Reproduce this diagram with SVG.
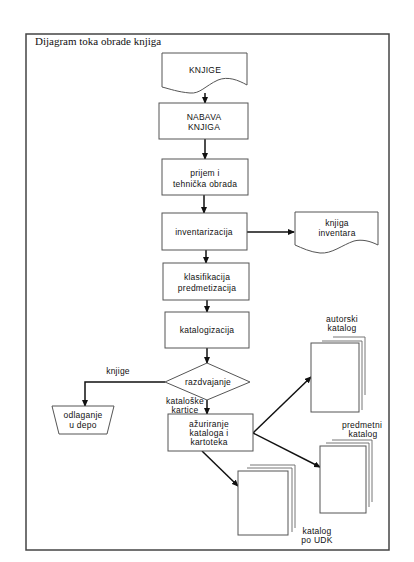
<svg xmlns="http://www.w3.org/2000/svg" width="414" height="562" viewBox="0 0 414 562">
<style>
.frame{fill:none;stroke:#444;stroke-width:1.5}
.box{fill:#fff;stroke:#555;stroke-width:1}
.sheet{fill:none;stroke:#666;stroke-width:0.9}
.t{font-family:"Liberation Sans",Arial,sans-serif;font-size:8.5px;fill:#111;text-anchor:middle;letter-spacing:0.25px}
.title{font-family:"Liberation Serif","Times New Roman",serif;font-size:11px;fill:#111}
.c{fill:none;stroke:#111;stroke-width:1.5}
</style>
<defs>
<marker id="ah" markerWidth="7" markerHeight="6" refX="6" refY="3" orient="auto" markerUnits="userSpaceOnUse">
<path d="M0,0 L7,3 L0,6 Z" fill="#111"/>
</marker>
</defs>
<rect width="414" height="562" fill="#fff"/>
<rect class="frame" x="26" y="34" width="363" height="516"/>
<text class="title" x="35" y="45">Dijagram toka obrade knjiga</text>

<g id="connectors">
<line class="c" x1="205" y1="93" x2="205" y2="103" marker-end="url(#ah)"/>
<line class="c" x1="205" y1="139" x2="205" y2="159" marker-end="url(#ah)"/>
<line class="c" x1="204" y1="195" x2="204" y2="213" marker-end="url(#ah)"/>
<line class="c" x1="247" y1="232" x2="294" y2="232" marker-end="url(#ah)"/>
<line class="c" x1="206" y1="250" x2="206" y2="263" marker-end="url(#ah)"/>
<line class="c" x1="207" y1="300" x2="207" y2="312" marker-end="url(#ah)"/>
<line class="c" x1="207" y1="348" x2="207" y2="363" marker-end="url(#ah)"/>
<polyline class="c" points="165,382 85,382 85,406" marker-end="url(#ah)"/>
<line class="c" x1="207" y1="400" x2="207" y2="414" marker-end="url(#ah)"/>
<line class="c" x1="253" y1="433" x2="311" y2="377" marker-end="url(#ah)"/>
<line class="c" x1="253" y1="433" x2="320" y2="467" marker-end="url(#ah)"/>
<line class="c" x1="202" y1="451" x2="238" y2="486" marker-end="url(#ah)"/>
<text class="t" x="118" y="374">knjige</text>
<text class="t" x="185" y="404" font-size="8">kataloške</text>
<text class="t" x="185" y="413" font-size="8">kartice</text>
</g>

<g id="knjige">
<path class="box" d="M162,53 H247 V85 C238,80 228,76 218,80 C205,86 200,94 190,93 C178,92 170,89 162,87 Z"/>
<text class="t" x="205" y="73">KNJIGE</text>
</g>
<g id="nabava">
<rect class="box" x="159" y="103" width="89" height="36"/>
<text class="t" x="204" y="120">NABAVA</text>
<text class="t" x="204" y="130">KNJIGA</text>
</g>
<g id="prijem">
<rect class="box" x="162" y="159" width="86" height="36"/>
<text class="t" x="205" y="176">prijem i</text>
<text class="t" x="205" y="187">tehnička obrada</text>
</g>
<g id="inventarizacija">
<rect class="box" x="162" y="213" width="85" height="37"/>
<text class="t" x="204" y="235">inventarizacija</text>
</g>
<g id="knjiga-inventara">
<path class="box" d="M295,212 H378 V245 C370,241 362,239 354,241 C342,245 332,254 320,253 C310,252 302,248 295,245 Z"/>
<text class="t" x="337" y="226">knjiga</text>
<text class="t" x="337" y="236">inventara</text>
</g>
<g id="klasifikacija">
<rect class="box" x="163" y="263" width="86" height="37"/>
<text class="t" x="207" y="280">klasifikacija</text>
<text class="t" x="207" y="291">predmetizacija</text>
</g>
<g id="katalogizacija">
<rect class="box" x="165" y="312" width="84" height="36"/>
<text class="t" x="207" y="333">katalogizacija</text>
</g>
<g id="razdvajanje">
<polygon class="box" points="207,363 250,382 207,400 165,382"/>
<text class="t" x="208" y="385">razdvajanje</text>
</g>
<g id="odlaganje">
<polygon class="box" points="52,406 114,406 107,434 59,434"/>
<text class="t" x="83" y="418">odlaganje</text>
<text class="t" x="83" y="428">u depo</text>
</g>
<g id="azuriranje">
<rect class="box" x="168" y="414" width="85" height="37"/>
<text class="t" x="209" y="427">ažuriranje</text>
<text class="t" x="209" y="436">kataloga i</text>
<text class="t" x="209" y="445">kartoteka</text>
</g>
<g id="autorski-katalog">
<path class="sheet" d="M333,337 H365 V395 M322,341 H362 V410"/>
<rect class="box" x="311" y="343" width="48" height="69"/>
<text class="t" x="342" y="322">autorski</text>
<text class="t" x="342" y="331">katalog</text>
</g>
<g id="predmetni-katalog">
<path class="sheet" d="M332,440 H372 V502 M326,443 H369 V507"/>
<rect class="box" x="320" y="446" width="46" height="67"/>
<text class="t" x="362" y="428">predmetni</text>
<text class="t" x="363" y="437">katalog</text>
</g>
<g id="katalog-udk">
<path class="sheet" d="M250,465 H295 V528 M247,468 H292 V532"/>
<rect class="box" x="238" y="471" width="50" height="64"/>
<text class="t" x="317" y="534">katalog</text>
<text class="t" x="317" y="543">po UDK</text>
</g>
</svg>
